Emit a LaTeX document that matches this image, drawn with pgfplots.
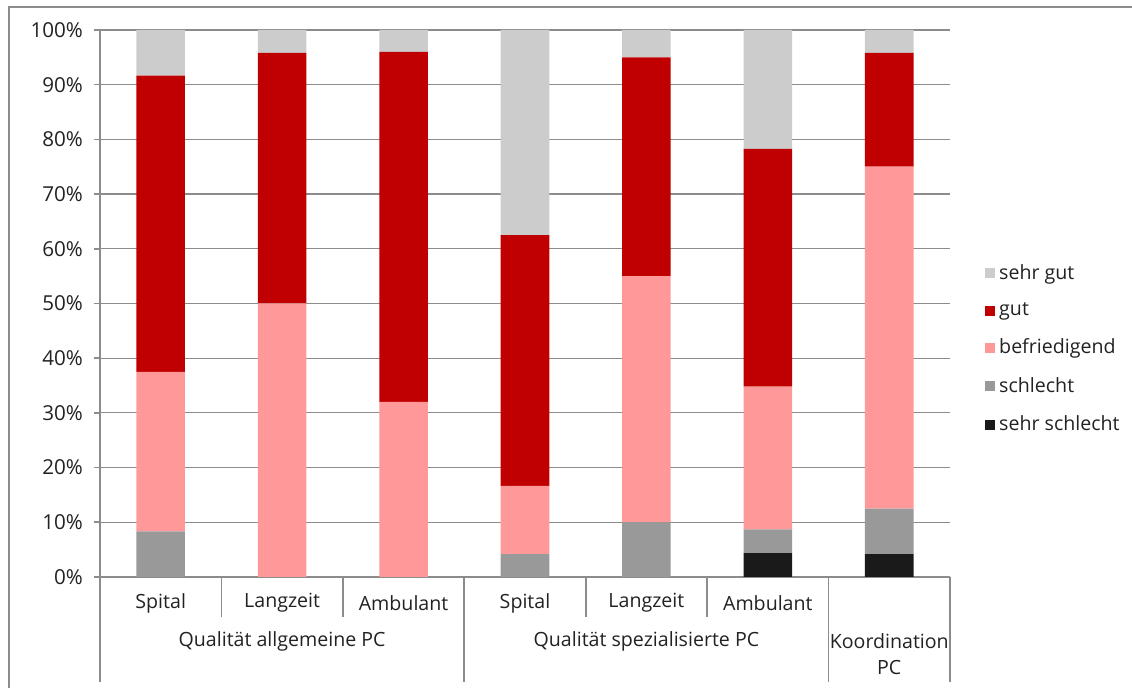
\documentclass[border=0pt]{standalone}
\usepackage{pgfplots}
\pgfplotsset{compat=1.18}
\usepackage{fontspec}
\setmainfont{Open Sans}
\definecolor{sgut}{HTML}{CCCCCC}
\definecolor{gut}{HTML}{C00000}
\definecolor{befr}{HTML}{FF9999}
\definecolor{schl}{HTML}{999999}
\definecolor{sschl}{HTML}{1A1A1A}
\definecolor{axgray}{HTML}{8C8C8C}
\definecolor{txt}{HTML}{222222}
\begin{document}
\begin{tikzpicture}[font=\fontsize{9.8}{11}\selectfont]
\useasboundingbox (-50pt,-55.5pt) rectangle (516pt,288.5pt);
\draw[axgray,line width=0.8pt] (-45.5pt,-56pt) -- (-45.5pt,285pt) -- (520pt,285pt);
\begin{axis}[
  at={(0,0)}, anchor=south west,
  scale only axis, width=425pt, height=273.5pt,
  ybar stacked, bar width=0.4,
  xmin=-0.5, xmax=6.5, ymin=0, ymax=100,
  xtick=\empty,
  ytick={0,10,...,100},
  yticklabel={\pgfmathprintnumber{\tick}\%},
  /pgf/number format/assume math mode=true,
  ymajorgrids, grid style={axgray, line width=0.6pt},
  axis line style={axgray, line width=0.8pt},
  separate axis lines,
  axis x line*=bottom, axis y line*=left,
  y axis line style={-}, x axis line style={-},
  major tick length=3pt,
  tick style={axgray, line width=0.8pt},
  ytick pos=left, tick align=outside,
  tick label style={txt, font=\fontsize{10.3}{11}\selectfont},
  yticklabel style={xshift=-2pt},
  clip=false,
  reverse legend,
  legend cell align=left,
  legend style={at={(1.041,0.417)}, anchor=west, draw=none, fill=none,
    font=\fontsize{9.8}{11}\selectfont, text=txt,
    row sep=6.2pt, inner sep=0pt},
  legend image code/.code={\fill[#1] (0pt,-2.5pt) rectangle (5pt,2.5pt);},
]
\addplot[fill=sschl, draw=none] coordinates {(0,0) (1,0) (2,0) (3,0) (4,0) (5,4.35) (6,4.17)};
\addplot[fill=schl, draw=none] coordinates {(0,8.33) (1,0) (2,0) (3,4.17) (4,10) (5,4.35) (6,8.33)};
\addplot[fill=befr, draw=none] coordinates {(0,29.17) (1,50) (2,32) (3,12.5) (4,45) (5,26.09) (6,62.5)};
\addplot[fill=gut, draw=none] coordinates {(0,54.17) (1,45.83) (2,64) (3,45.83) (4,40) (5,43.48) (6,20.83)};
\addplot[fill=sgut, draw=none] coordinates {(0,8.33) (1,4.17) (2,4) (3,37.5) (4,5) (5,21.74) (6,4.17)};
\legend{sehr schlecht, schlecht, befriedigend, gut, sehr gut}
% category separators
\pgfplotsinvokeforeach{0.5,1.5,3.5,4.5}{
  \draw[axgray, line width=0.8pt] (axis cs:#1,0) -- ++(0pt,-20pt);
}
\pgfplotsinvokeforeach{-0.5,2.5,5.5,6.5}{
  \draw[axgray, line width=0.8pt] (axis cs:#1,0) -- ++(0pt,-52.5pt);
}
\node[txt] at ([yshift=-13pt]axis cs:0,0) {Spital};
\node[txt] at ([yshift=-13pt]axis cs:1,0) {Langzeit};
\node[txt] at ([yshift=-13pt]axis cs:2,0) {Ambulant};
\node[txt] at ([yshift=-13pt]axis cs:3,0) {Spital};
\node[txt] at ([yshift=-13pt]axis cs:4,0) {Langzeit};
\node[txt] at ([yshift=-13pt]axis cs:5,0) {Ambulant};
\node[txt] at ([yshift=-32pt]axis cs:1,0) {Qualität allgemeine PC};
\node[txt] at ([yshift=-32pt]axis cs:4,0) {Qualität spezialisierte PC};
\node[txt, align=center, inner sep=0pt, font=\fontsize{9.8}{13}\selectfont] at ([yshift=-38.5pt]axis cs:6,0) {Koordination\\PC};
\end{axis}
\end{tikzpicture}
\end{document}
